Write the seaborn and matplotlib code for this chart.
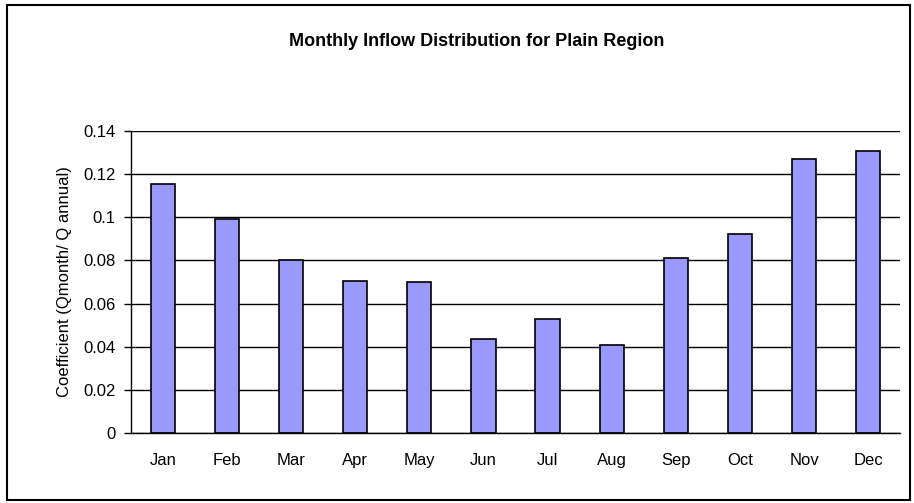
import numpy as np
import pandas as pd
import matplotlib
matplotlib.use("Agg")
import matplotlib.pyplot as plt
import seaborn as sns
from matplotlib.patches import Rectangle

months = ["Jan", "Feb", "Mar", "Apr", "May", "Jun",
          "Jul", "Aug", "Sep", "Oct", "Nov", "Dec"]
coef = [0.1155, 0.0993, 0.0800, 0.0704, 0.0698, 0.0434,
        0.0530, 0.0410, 0.0809, 0.0920, 0.1270, 0.1306]
yticks = [0, 0.02, 0.04, 0.06, 0.08, 0.1, 0.12, 0.14]
ytick_labels = ["0", "0.02", "0.04", "0.06", "0.08", "0.1", "0.12", "0.14"]

df = pd.DataFrame({"month": months, "coef": coef})

sns.set_style("white")
plt.rcParams["font.family"] = ["Liberation Sans", "DejaVu Sans"]
plt.rcParams["text.color"] = "black"
plt.rcParams["axes.labelcolor"] = "black"
plt.rcParams["xtick.color"] = "black"
plt.rcParams["ytick.color"] = "black"

fig = plt.figure(figsize=(9.14, 5.03), dpi=100)
ax = fig.add_axes([0.143, 0.139, 0.842, 0.601])

sns.barplot(data=df, x="month", y="coef", color="#9999FF", saturation=1,
            width=0.38, edgecolor="black", linewidth=1.2, ax=ax)

ax.set_ylim(0, 0.14)
ax.set_xlim(-0.5, 11.5)
ax.set_yticks(yticks)
ax.set_yticklabels(ytick_labels, fontsize=12)
ax.yaxis.grid(True, color="black", linewidth=1)
ax.set_axisbelow(True)

# category labels centred, tick marks between categories
ax.set_xticks(np.arange(12))
ax.set_xticklabels(months, fontsize=12)
ax.tick_params(axis="x", which="major", length=0, pad=14)
ax.set_xticks(np.arange(-0.5, 12.0, 1), minor=True)
ax.tick_params(axis="x", which="minor", length=5, color="black", width=1)
ax.tick_params(axis="y", length=5, color="black", width=1, direction="out", left=True, pad=6)

for side in ["top", "right"]:
    ax.spines[side].set_visible(False)
for side in ["left", "bottom"]:
    ax.spines[side].set_color("black")
    ax.spines[side].set_linewidth(1)

ax.set_xlabel("")
ax.set_ylabel("Coefficient (Qmonth/ Q annual)", fontsize=12, labelpad=8)

fig.text(0.522, 0.918, "Monthly Inflow Distribution for Plain Region",
         ha="center", va="center", fontsize=13, fontweight="bold")

# outer chart border
fig.patches.append(Rectangle((0.008, 0.006), 0.988, 0.984, transform=fig.transFigure,
                             fill=False, edgecolor="black", linewidth=1.5))

fig.savefig("out.png", dpi=100)
